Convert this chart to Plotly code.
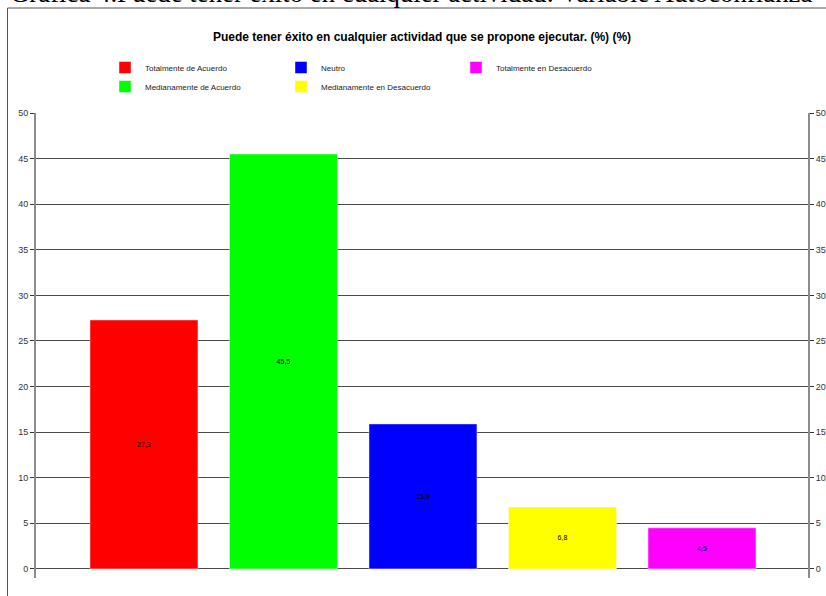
import plotly.graph_objects as go

categories = ["Totalmente de Acuerdo", "Medianamente de Acuerdo", "Neutro",
              "Medianamente en Desacuerdo", "Totalmente en Desacuerdo"]
values = [27.3, 45.5, 15.9, 6.8, 4.5]
colors = ["#FF0000", "#00FF00", "#0000FF", "#FFFF00", "#FF00FF"]
legend_groups = ["legend", "legend", "legend2", "legend2", "legend3"]
tick_values = [0, 5, 10, 15, 20, 25, 30, 35, 40, 45, 50]

title_text = "Puede tener éxito en cualquier actividad que se propone ejecutar. (%) (%)"
caption_text = "Gráfica 4.Puede tener éxito en cualquier actividad: Variable Autoconfianza"

W, H = 826, 596
ML, MR, MT, MB = 36, 18, 113, 18
PW = W - ML - MR
PH = H - MT - MB


def px(xp):
    return (xp - ML) / PW


def py(yp):
    return (H - MB - yp) / PH


def cx(xp):
    return xp / W


def cy(yp):
    return 1 - yp / H


fig = go.Figure()
for cat, val, col, lg in zip(categories, values, colors, legend_groups):
    fig.add_trace(go.Bar(
        x=[cat], y=[val], name=cat,
        marker=dict(color=col, line=dict(width=1, color="rgba(255,255,255,0.45)")),
        width=0.774,
        texttemplate="%{y:.1f}",
        textposition="inside",
        insidetextanchor="middle",
        textangle=0,
        constraintext="none",
        insidetextfont=dict(family="Liberation Sans, Arial", size=7, color="#000000"),
        legend=lg,
        hoverinfo="skip",
    ))

# invisible trace to carry right axis
fig.add_trace(go.Scatter(x=[categories[0]], y=[None], yaxis="y2", showlegend=False,
                         mode="markers", hoverinfo="skip"))

tick_font = dict(family="Liberation Sans, Arial", size=9, color="#333333")
legend_font = dict(family="Liberation Sans, Arial", size=8, color="#222222")

common_y = dict(
    range=[-1, 50], tickvals=tick_values, ticks="outside", ticklen=4,
    tickcolor="#333333", tickfont=tick_font, showline=True, linecolor="#8c8c8c",
    linewidth=2, fixedrange=True, automargin=False,
)

legend_common = dict(xanchor="left", yanchor="top", orientation="v",
                     xref="container", yref="container",
                     font=legend_font, bgcolor="rgba(0,0,0,0)", tracegroupgap=0)

fig.update_layout(
    width=W, height=H,
    autosize=False,
    margin=dict(l=ML, r=MR, t=MT, b=MB, autoexpand=False),
    paper_bgcolor="white", plot_bgcolor="white",
    separators=",.",
    barmode="overlay",
    showlegend=True,
    title=dict(text=title_text, x=0.5, xref="paper", xanchor="center",
               y=1 - 37 / H, yref="container", yanchor="middle",
               font=dict(family="Liberation Sans, Arial", size=12, color="#000000", weight="bold")),
    xaxis=dict(range=[-0.774, 4.76], showticklabels=False, ticks="", showgrid=False,
               zeroline=False, showline=False, fixedrange=True, automargin=False),
    yaxis=dict(**common_y, side="left", showgrid=True, gridcolor="#4a4a4a", gridwidth=1,
               zeroline=True, zerolinecolor="#4a4a4a", zerolinewidth=1),
    yaxis2=dict(**common_y, side="right", overlaying="y", anchor="x", showgrid=False,
                zeroline=False),
    legend=dict(x=cx(105), y=cy(53), **legend_common),
    legend2=dict(x=cx(281), y=cy(53), **legend_common),
    legend3=dict(x=cx(456), y=cy(53), **legend_common),
    shapes=[dict(type="rect", xref="paper", yref="paper",
                 x0=px(7.5), x1=px(840), y0=py(620), y1=py(8),
                 line=dict(color="#555555", width=1), fillcolor="rgba(0,0,0,0)",
                 layer="below")],
    annotations=[dict(text=caption_text, xref="paper", yref="paper",
                      x=px(8), y=py(10), xanchor="left", yanchor="bottom",
                      showarrow=False,
                      font=dict(family="Liberation Serif, Times New Roman, serif", size=26.8, color="#000000"))],
)

fig.write_html(
    "out.html",
    config={"responsive": False, "displayModeBar": False},
    post_script="document.body.style.margin='0';document.body.style.overflow='hidden';",
)
